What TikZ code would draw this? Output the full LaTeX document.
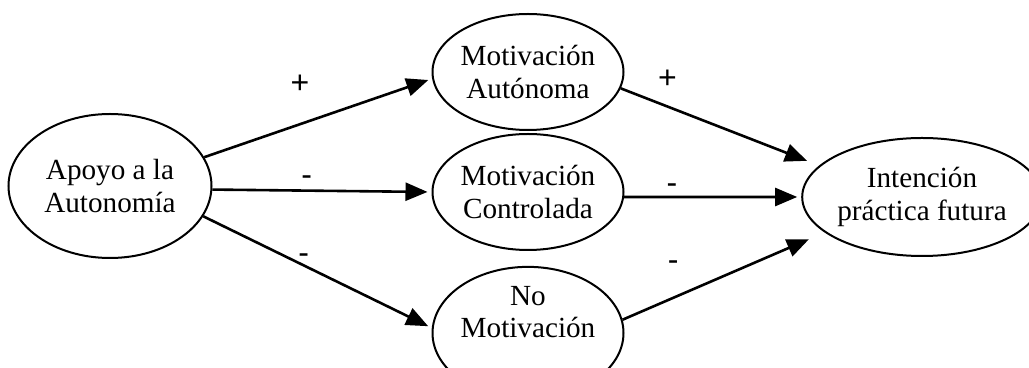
\documentclass[tikz,border=0pt]{standalone}
\usepackage{fontspec}
\setmainfont{Liberation Serif}
\setsansfont{Liberation Sans}
\usetikzlibrary{shapes.geometric,arrows.meta,positioning}

\begin{document}
\begin{tikzpicture}[x=0.5pt,y=-0.5pt,on grid,
    construct/.style={ellipse,draw,line width=1pt,inner sep=0pt,align=center,
      minimum width=95.5pt,minimum height=58pt,font=\fontsize{14.6}{16.2}\selectfont},
    sign/.style={font=\sffamily\fontsize{16}{18}\selectfont,inner sep=0pt},
    link/.style={-{Triangle[length=11pt,width=9pt]},line width=1.3pt,shorten >=2pt}]
    \useasboundingbox (0,0) rectangle (1029,368);
    \clip (0,0) rectangle (1029,368);

    \node[construct,minimum width=101.5pt,minimum height=72pt] (apoyo) at (110,186) {Apoyo a la\\Autonomía};
    \node[construct] (m_con) [below right=3pt and 209pt of apoyo] {Motivación\\Controlada};
    \node[construct] (m_aut) [above=60pt of m_con] {Motivación\\Autónoma};
    \node[construct] (m_no) [below=70.5pt of m_con] {No\\Motivación\rule[-21pt]{0pt}{21pt}};
    \node[construct,minimum width=106pt,minimum height=59pt] (intencion) [below right=2.5pt and 197pt of m_con] {Intención\\práctica futura};

    \path[link]
    (apoyo.17) edge node[sign,pos=0.42,yshift=20pt] (s_aut) {+} (m_aut.184)
    (apoyo.-2) edge node[sign,pos=0.43,yshift=5pt] (s_con) {-} (m_con.west)
    (apoyo.-18) edge node[sign,pos=0.44,yshift=3.5pt] (s_no) {-} (m_no.177)
    (m_aut.-10) edge[shorten >=6.5pt] node[sign,pos=0.235,yshift=13.6pt] (t_aut) {+} (intencion.163)
    (m_con.-3) edge node[sign,pos=0.27,yshift=4pt] (t_con) {-} (intencion.west)
    (m_no.8) edge[shorten >=8.5pt] node[sign,pos=0.25,yshift=16pt] (t_no) {-} (intencion.200);
\end{tikzpicture}
\end{document}
